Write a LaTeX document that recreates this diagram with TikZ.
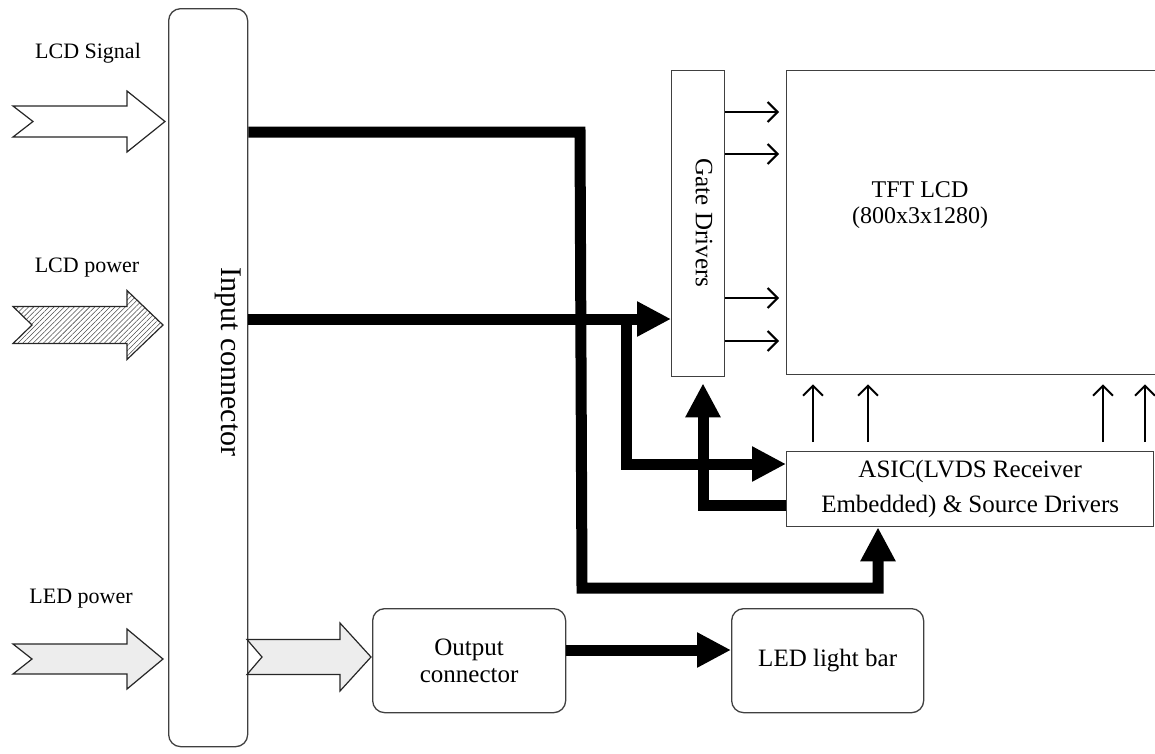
\documentclass[tikz,border=0pt]{standalone}
\usepackage{fontspec}
\setmainfont{Liberation Serif}
\usetikzlibrary{arrows.meta,patterns.meta}
\newcommand{\fatarrow}[8]{%
  \draw[#1] (#2,#6-#7) -- (#4,#6-#7) -- (#4,#6-#8) -- (#5,#6) -- (#4,#6+#8) -- (#4,#6+#7) -- (#2,#6+#7) -- (#3,#6) -- cycle;}
\begin{document}
\begin{tikzpicture}[x=1pt,y=-1pt,
  box/.style={draw=black!75, line width=1.3pt, inner sep=0pt, anchor=north west, fill=white},
  rbox/.style={box, rounded corners=12pt},
  thk/.style={line width=11pt, -{Triangle[length=34pt,width=33pt]}},
  sigarrow/.style={line width=2pt, -{Straight Barb[length=10pt,width=20pt]}},
  lbl/.style={font=\fontsize{22}{26}\selectfont, inner sep=0pt, anchor=base},
  txt/.style={font=\fontsize{25}{35}\selectfont, align=center, inner sep=0pt},
  fatarr/.style={draw=black!85, line width=1.2pt, line join=miter}]
\useasboundingbox (0,0) rectangle (1155,753);
\clip (0,0) rectangle (1155,753);

% boxes
\node[rbox, minimum width=79pt, minimum height=738pt] (inc) at (168,8) {};
\node[box, minimum width=53pt, minimum height=306pt] (gd) at (671,70) {};
\node[box, minimum width=380pt, minimum height=304pt] (tft) at (786,70) {};
\node[box, minimum width=367pt, minimum height=75pt, txt] (asic) at (786,451) {ASIC(LVDS Receiver\\Embedded) \& Source Drivers};
\node[rbox, minimum width=193pt, minimum height=104pt, txt, font=\fontsize{25}{27}\selectfont] (oc) at (372,608) {Output\\connector};
\node[rbox, minimum width=192pt, minimum height=104pt, txt] (led) at (731,608) {LED light bar};

% texts
\node[txt, rotate=-90, font=\fontsize{30}{34}\selectfont] (inct) at (228,362) {Input connector};
\node[txt, rotate=-90] (gdt) at (704,223) {Gate Drivers};
\node[txt, font=\fontsize{24}{26}\selectfont] (tftt) at (920,205) {TFT LCD\\(800x3x1280)};
\node[lbl] (l1) at (88,58) {LCD Signal};
\node[lbl] (l2) at (87,272) {LCD power};
\node[lbl] (l3) at (81,603) {LED power};

% fat input arrows
\fatarrow{fatarr, fill=white}{13}{33}{127}{165}{121.5}{15.5}{30.5}
\fatarrow{fatarr, pattern={Lines[angle=45,distance=3.6pt,line width=0.55pt]}, pattern color=black!70}{13}{32}{127}{163}{325}{18.5}{34.5}
\fatarrow{fatarr, fill=gray!14}{13}{32}{127}{163}{659}{15}{30}
\fatarrow{fatarr, fill=gray!14}{247}{262}{340}{371}{657}{17.5}{34}

% gate driver outputs
\foreach \yy in {112,154,298,341}{
  \coordinate (ga) at (0,\yy);
  \draw[sigarrow, shorten >=7pt] (gd.east |- ga) -- (tft.west |- ga);
}
% source driver outputs
\foreach \xx in {813,868,1103,1145}{
  \coordinate (ua) at (\xx,0);
  \draw[sigarrow, shorten <=9pt, shorten >=9pt] (asic.north -| ua) -- (tft.south -| ua);
}

% thick connectors
\coordinate (c1) at (580,132);
\coordinate (c2) at (582,588);
\coordinate (c3) at (878,588);
\draw[thk] (inc.east |- c1) -- (c1) -- (c2) -- (c3) -- (asic.south -| c3);

\coordinate (d1) at (0,319);
\draw[thk] (inc.east |- d1) -- (gd.west |- d1);

\coordinate (e1) at (626,319);
\coordinate (e2) at (626,464);
\draw[thk] (e1) -- (e2) -- (asic.west |- e2);

\coordinate (f1) at (703,505);
\draw[thk, shorten >=6pt] (asic.west |- f1) -- (f1) -- (gd.south -| f1);

\coordinate (h1) at (0,650);
\draw[thk] (oc.east |- h1) -- (led.west |- h1);
\end{tikzpicture}
\end{document}
